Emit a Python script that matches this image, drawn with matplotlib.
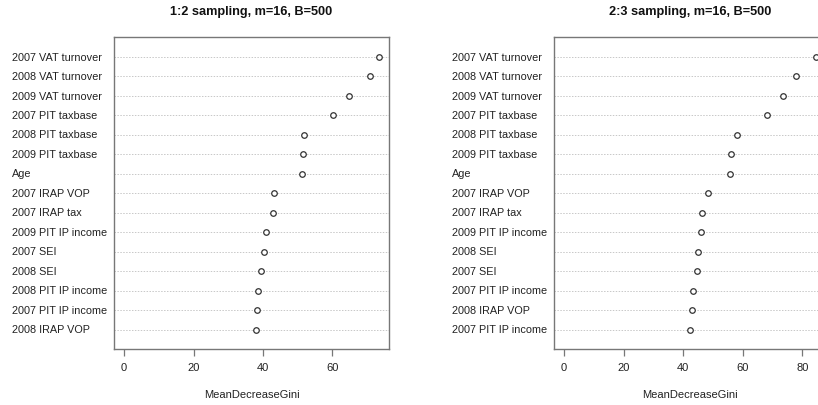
import matplotlib
matplotlib.use("Agg")
import matplotlib.pyplot as plt

plt.rcParams['font.family'] = ['Liberation Sans', 'DejaVu Sans']

labels_left = ["2007 VAT turnover", "2008 VAT turnover", "2009 VAT turnover",
               "2007 PIT taxbase", "2008 PIT taxbase", "2009 PIT taxbase", "Age",
               "2007 IRAP VOP", "2007 IRAP tax", "2009 PIT IP income", "2007 SEI",
               "2008 SEI", "2008 PIT IP income", "2007 PIT IP income", "2008 IRAP VOP"]
values_left = [73.4, 71.0, 64.7, 60.2, 51.8, 51.5, 51.4, 43.2, 42.9, 41.0, 40.2,
               39.4, 38.6, 38.3, 37.9]

labels_right = ["2007 VAT turnover", "2008 VAT turnover", "2009 VAT turnover",
                "2007 PIT taxbase", "2008 PIT taxbase", "2009 PIT taxbase", "Age",
                "2007 IRAP VOP", "2007 IRAP tax", "2009 PIT IP income", "2008 SEI",
                "2007 SEI", "2007 PIT IP income", "2008 IRAP VOP", "2007 PIT IP income"]
values_right = [84.6, 78.0, 73.5, 68.0, 58.1, 56.2, 55.9, 48.2, 46.2, 46.0, 44.9,
                44.5, 43.4, 42.9, 42.4]

titles = ["1:2 sampling, m=16, B=500", "2:3 sampling, m=16, B=500"]
xticks_left = [0, 20, 40, 60]
xticks_right = [0, 20, 40, 60, 80]
xlabel = "MeanDecreaseGini"

W, H = 818, 406
fig = plt.figure(figsize=(W / 100, H / 100), dpi=100)

def px_axes(x0, x1, y0, y1):
    return fig.add_axes([x0 / W, 1 - y1 / H, (x1 - x0) / W, (y1 - y0) / H])

panels = [
    (px_axes(114, 389, 38, 350), labels_left, values_left, titles[0], xticks_left, 12),
    (px_axes(554, 826, 38, 350), labels_right, values_right, titles[1], xticks_right, 452),
]

for ax, labs, vals, title, ticks, labx in panels:
    n = len(vals)
    ys = [n - i for i in range(n)]
    for y in ys:
        ax.axhline(y, color='#c8c8c8', lw=0.7, ls=(0, (1.5, 1.5)), zorder=1)
    ax.plot(vals, ys, ls='none', marker='o', ms=4.0, mfc='white', mec='#333333',
            mew=0.9, zorder=3)
    mx = max(vals)
    ax.set_xlim(-0.04 * mx, 1.04 * mx)
    ax.set_ylim(0, n + 1)
    ax.set_yticks([])
    ax.set_xticks(ticks)
    ax.set_xticklabels([str(t) for t in ticks], fontsize=8, color='#222222')
    ax.tick_params(axis='x', length=5, width=0.9, color='#777777', pad=4.5)
    for s in ['top', 'right', 'bottom', 'left']:
        ax.spines[s].set_color('#777777')
        ax.spines[s].set_linewidth(1.0)
    pos = ax.get_position()
    cx = (pos.x0 + pos.x1) / 2
    fig.text(cx, 1 - 12 / H, title, ha='center', va='center', fontsize=9.2,
             fontweight='bold', color='#111111')
    fig.text(cx, 1 - 395 / H, xlabel, ha='center', va='center', fontsize=8,
             color='#222222')
    for y, lab in zip(ys, labs):
        ypx = ax.transData.transform((0, y))[1]
        fig.text(labx / W, ypx / H, lab, ha='left', va='center', fontsize=7.8,
                 color='#222222')

fig.savefig("out.png", dpi=100)
